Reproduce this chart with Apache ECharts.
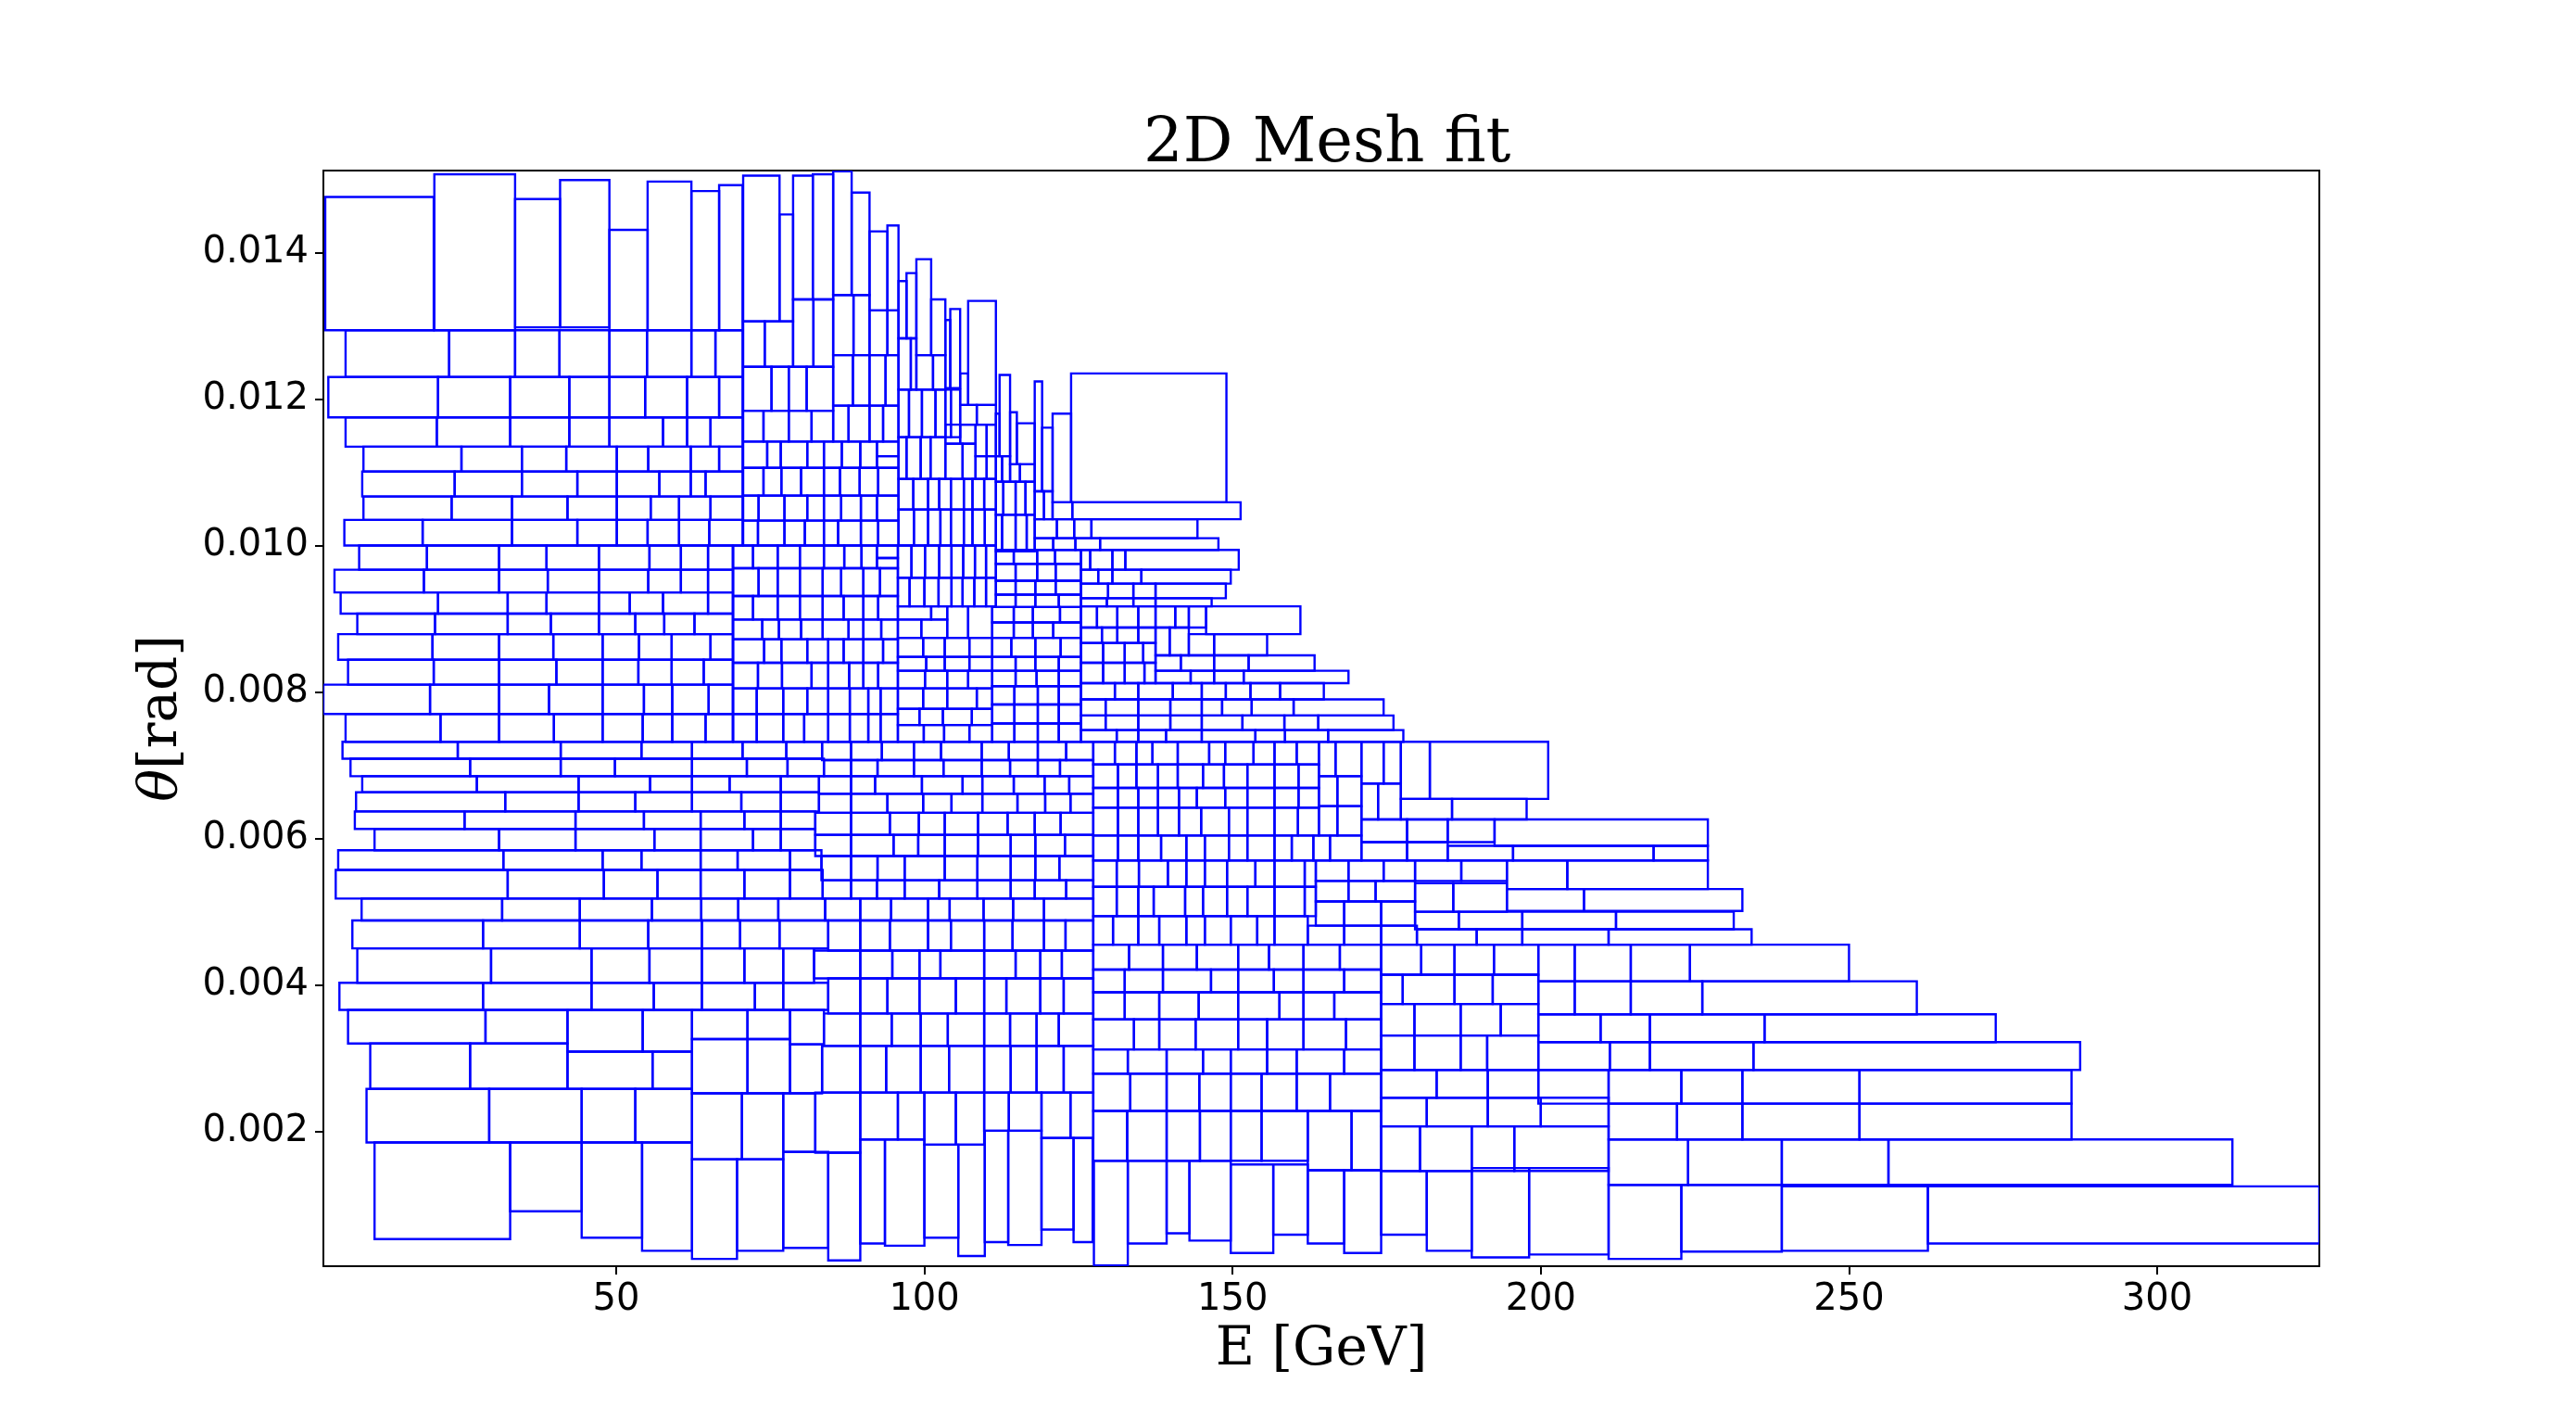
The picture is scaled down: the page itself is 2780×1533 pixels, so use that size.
<!DOCTYPE html>
<html>
<head>
<meta charset="utf-8">
<title>2D Mesh fit</title>
<script src="https://cdn.jsdelivr.net/npm/echarts@6/dist/echarts.min.js"></script>
<style>
    html, body { margin: 0; padding: 0; background: #fff; }
    #mesh { width: 2780px; height: 1533px; }
</style>
</head>
<body>
<div id="mesh"></div>
<script>
    // axis ticks
    var energyTicks = [50, 100, 150, 200, 250, 300];
    var thetaTicks = [0.002, 0.004, 0.006, 0.008, 0.010, 0.012, 0.014];

    // single cells: [E low, E high, theta low (mrad), theta high (mrad)]
    var singleCells = [
        [2.8, 20.4, 12.94, 14.76], [20.5, 33.6, 12.94, 15.07], [33.6, 40.9, 12.98, 14.73],
        [40.9, 48.9, 12.98, 14.99], [48.9, 55.1, 12.94, 14.31], [55.1, 62.2, 12.94, 14.97],
        [62.2, 66.7, 12.94, 14.84], [66.7, 70.5, 12.94, 14.92], [70.6, 76.5, 13.06, 15.05],
        [76.5, 78.7, 13.06, 14.52], [78.7, 81.9, 13.36, 15.05], [81.9, 85.2, 13.36, 15.07],
        [85.2, 88.2, 13.42, 15.11], [88.2, 91.1, 13.42, 14.82], [91.1, 94.0, 13.21, 14.29],
        [94.0, 95.8, 13.21, 14.37], [95.8, 97.1, 12.83, 13.61], [97.1, 98.7, 12.83, 13.72],
        [98.7, 101.1, 12.60, 13.91], [101.1, 103.4, 12.60, 13.36], [103.4, 104.2, 12.15, 13.08],
        [104.2, 105.8, 12.15, 13.23], [105.8, 107.1, 11.92, 12.35], [107.1, 111.6, 11.92, 13.34],
        [111.6, 112.2, 11.22, 11.80], [112.2, 113.9, 11.22, 12.33], [113.9, 115.0, 11.11, 11.82],
        [115.0, 117.9, 11.11, 11.67], [117.9, 119.1, 10.74, 12.24], [119.1, 120.8, 10.74, 11.61],
        [120.8, 123.8, 10.59, 11.80], [123.8, 149.0, 10.59, 12.35], [124.0, 151.3, 10.36, 10.59],
        [145.7, 161.0, 8.79, 9.17], [177.3, 182.0, 6.54, 7.32], [182.0, 201.2, 6.54, 7.32],
        [192.5, 227.1, 5.90, 6.26],
        // bottom row
        [10.8, 32.8, 0.53, 1.85], [32.8, 44.4, 0.91, 1.85], [44.4, 54.2, 0.55, 1.85],
        [54.2, 62.3, 0.37, 1.85], [62.3, 69.6, 0.26, 1.62], [69.6, 77.1, 0.37, 1.62],
        [77.1, 84.4, 0.41, 1.72], [84.4, 89.6, 0.24, 1.71], [89.6, 93.6, 0.47, 1.89],
        [93.6, 100.0, 0.44, 1.89], [100.0, 105.5, 0.55, 1.82], [105.5, 109.8, 0.30, 1.82],
        [109.8, 113.6, 0.49, 2.01], [113.6, 119.0, 0.45, 2.01], [119.0, 124.2, 0.66, 1.91],
        [124.2, 127.3, 0.49, 1.91], [127.5, 133.0, 0.17, 1.60], [133.0, 139.3, 0.47, 1.60],
        [139.3, 143.0, 0.61, 1.60], [143.0, 149.7, 0.51, 1.60], [149.7, 156.6, 0.34, 1.55],
        [156.6, 162.2, 0.59, 1.55], [162.2, 168.1, 0.47, 1.47], [168.1, 174.1, 0.34, 1.47],
        [174.1, 181.5, 0.59, 1.46], [181.5, 188.8, 0.37, 1.46], [188.8, 198.1, 0.28, 1.50],
        [198.1, 211.0, 0.32, 1.50], [211.0, 222.8, 0.26, 1.27], [222.8, 239.1, 0.36, 1.27],
        [239.1, 262.8, 0.37, 1.25], [262.8, 326.3, 0.47, 1.25]
    ];

    // rows: [theta low (mrad), theta high (mrad), E edges...]
    var rowsUpper = [
        [12.30, 12.94, 6.1, 22.9, 33.6, 40.8, 48.9, 55.0, 62.2, 66.1, 70.5],
        [11.75, 12.30, 3.3, 21.1, 32.8, 42.4, 48.9, 54.7, 61.5, 66.7, 70.5],
        [11.35, 11.75, 6.1, 20.9, 32.8, 42.4, 48.9, 57.6, 61.5, 65.3, 70.5],
        [11.01, 11.35, 9.0, 24.9, 34.7, 41.9, 50.1, 55.2, 62.1, 66.7, 70.5],
        [10.67, 11.01, 8.8, 23.8, 34.7, 43.7, 50.1, 57.0, 62.1, 64.5, 70.5],
        [10.35, 10.67, 9.0, 23.3, 33.1, 42.1, 50.1, 55.6, 60.2, 65.3, 70.5],
        [10.00, 10.35, 5.9, 18.6, 33.1, 43.7, 50.1, 55.1, 60.2, 65.1, 70.5],
        [12.44, 13.06, 70.6, 74.1, 78.7],
        [12.44, 13.36, 78.7, 82.0, 85.2],
        [12.60, 13.42, 85.2, 88.5, 91.1],
        [12.60, 13.21, 91.1, 94.0, 95.8],
        [11.84, 12.44, 70.6, 75.2, 78.0, 80.9, 85.2],
        [11.91, 12.60, 85.2, 88.4, 91.1, 93.7, 95.8],
        [11.42, 11.84, 70.6, 73.9, 78.0, 81.7, 85.2],
        [11.42, 11.91, 85.2, 87.7, 91.1, 93.3, 95.8],
        [11.06, 11.42, 70.6, 74.5, 76.7, 81.0, 83.7, 86.6, 89.6, 92.3],
        [11.22, 11.42, 92.3, 95.8],
        [11.06, 11.22, 92.3, 95.8],
        [10.68, 11.06, 70.6, 73.9, 76.8, 80.0, 83.7, 86.3, 89.5, 92.5, 95.8],
        [10.34, 10.68, 70.6, 73.1, 77.3, 81.0, 83.7, 86.5, 89.7, 92.3, 95.8],
        [10.00, 10.34, 70.6, 73.0, 77.3, 80.6, 83.7, 86.0, 89.7, 92.5, 95.8],
        [12.13, 12.83, 95.8, 97.8, 98.7],
        [12.13, 12.60, 98.7, 101.4, 103.4],
        [11.48, 12.13, 95.8, 97.5, 99.6, 101.8, 103.4, 104.3, 105.8],
        [11.65, 11.92, 105.8, 108.5, 111.6],
        [10.91, 11.48, 95.8, 97.1, 99.4, 101.0, 103.4],
        [11.39, 11.65, 103.4, 105.8, 108.3],
        [10.91, 11.39, 103.4, 106.2, 108.3],
        [11.22, 11.65, 108.3, 110.1, 111.6],
        [10.91, 11.22, 108.3, 110.1, 111.6],
        [10.49, 10.91, 95.8, 98.2, 100.6, 102.4, 104.3, 106.4, 107.8, 109.7, 111.6],
        [10.00, 10.49, 95.8, 98.3, 100.6, 102.6, 104.3, 106.4, 107.8, 109.8, 111.6],
        [10.87, 11.22, 111.6, 112.6, 113.9],
        [10.87, 11.11, 113.9, 115.5, 117.9],
        [10.42, 10.87, 111.6, 112.8, 114.8, 116.4, 117.9],
        [9.92, 10.42, 111.6, 112.6, 114.8, 116.6, 117.9],
        [10.36, 10.74, 117.9, 119.4, 120.8],
        [10.36, 10.59, 120.8, 124.0],
        [10.10, 10.36, 117.9, 121.5, 124.3, 127.1, 144.3],
        [9.94, 10.10, 117.9, 120.9, 124.5, 128.5, 147.7]
    ];

    var rowsMiddle = [
        [9.67, 10.00, 8.3, 19.3, 31.0, 38.7, 47.2, 55.4, 60.5, 64.9, 68.9],
        [9.36, 9.67, 4.3, 18.8, 31.0, 38.9, 47.2, 55.2, 60.5, 64.9, 68.9],
        [9.07, 9.36, 5.3, 21.1, 32.4, 38.7, 47.2, 52.2, 57.6, 64.9, 68.9],
        [8.79, 9.07, 8.0, 20.6, 32.4, 39.4, 47.2, 53.1, 57.8, 62.7, 68.9],
        [8.44, 8.79, 4.9, 20.2, 31.0, 39.8, 47.8, 53.7, 59.0, 65.3, 68.9],
        [8.10, 8.44, 6.5, 20.4, 31.0, 40.3, 47.8, 53.6, 59.0, 64.2, 68.9],
        [7.70, 8.10, 2.5, 19.8, 31.0, 39.1, 47.8, 54.5, 59.1, 65.0, 68.9],
        [7.32, 7.70, 6.1, 21.5, 31.0, 39.9, 47.8, 54.3, 59.1, 64.5, 68.9],
        [9.69, 10.00, 69.0, 72.2, 76.2, 79.8, 83.7, 87.0, 89.8, 92.3],
        [9.83, 10.00, 92.3, 95.7],
        [9.69, 9.83, 92.3, 95.7],
        [9.31, 9.69, 69.0, 73.1, 76.2, 79.8, 83.5, 86.5, 90.1, 92.8, 95.7],
        [8.99, 9.31, 69.0, 72.2, 76.2, 79.8, 83.5, 86.9, 90.1, 92.5, 95.7],
        [8.72, 8.99, 69.0, 73.7, 76.4, 80.0, 83.5, 87.7, 90.1, 93.0, 95.7],
        [8.40, 8.72, 69.0, 74.0, 76.8, 81.0, 84.4, 86.9, 90.1, 93.3, 95.7],
        [8.05, 8.40, 69.0, 73.0, 76.9, 81.7, 84.4, 87.8, 90.1, 92.5, 95.7],
        [7.70, 8.05, 69.0, 72.8, 77.1, 81.0, 84.4, 87.9, 90.9, 92.9, 95.7],
        [7.32, 7.70, 69.0, 72.8, 77.1, 80.5, 84.4, 87.9, 90.9, 92.9, 95.7],
        [9.56, 10.00, 95.7, 97.9, 100.1, 102.4, 104.4, 106.3, 108.2, 110.0, 111.6],
        [9.17, 9.56, 95.7, 97.6, 100.0, 102.3, 104.4, 106.2, 108.1, 110.0, 111.6],
        [8.99, 9.17, 95.7, 101.1, 103.7],
        [8.74, 8.99, 95.7, 99.5, 103.7],
        [8.74, 9.17, 103.7, 107.1, 111.0],
        [8.48, 8.74, 95.7, 99.8, 103.3, 107.3, 111.0],
        [8.29, 8.48, 95.7, 100.3, 103.3, 107.3, 111.0],
        [8.05, 8.29, 95.7, 100.1, 103.7, 107.1, 111.0],
        [7.77, 8.05, 95.7, 99.8, 103.7, 108.5, 111.0],
        [7.55, 7.77, 95.7, 99.2, 103.0, 107.7, 111.0],
        [7.32, 7.55, 95.7, 99.9, 103.2, 107.3, 111.0],
        [9.75, 9.94, 111.6, 114.5, 118.3, 121.2, 125.4],
        [9.52, 9.75, 111.6, 114.8, 118.3, 121.3, 125.4],
        [9.33, 9.52, 111.6, 114.8, 118.0, 121.3, 125.4],
        [9.16, 9.33, 111.6, 114.8, 118.0, 121.8, 125.4],
        [8.95, 9.16, 111.0, 114.5, 117.6, 122.0, 125.4],
        [8.74, 8.95, 111.0, 114.5, 117.6, 120.9, 125.4],
        [8.48, 8.74, 111.0, 114.1, 118.0, 122.1, 125.4],
        [8.29, 8.48, 111.0, 114.8, 118.0, 121.8, 125.4],
        [8.08, 8.29, 111.0, 114.8, 118.2, 121.8, 125.4],
        [7.83, 8.08, 111.0, 114.6, 118.4, 121.8, 125.4],
        [7.57, 7.83, 111.0, 114.6, 118.4, 121.8, 125.4],
        [7.32, 7.57, 111.0, 114.6, 118.4, 121.8, 125.4],
        [9.67, 9.94, 125.4, 126.9, 130.5, 132.6, 151.0],
        [9.48, 9.67, 125.4, 128.2, 130.5, 135.2, 149.7],
        [9.28, 9.48, 125.4, 129.8, 133.9, 137.5, 148.9],
        [9.17, 9.28, 125.4, 129.6, 133.9, 137.5, 146.6],
        [8.88, 9.17, 125.4, 128.0, 131.3, 134.7, 137.5, 140.7, 142.9, 145.7],
        [8.67, 8.88, 125.4, 128.8, 131.3, 134.7, 137.5],
        [8.50, 8.88, 137.5, 139.8, 142.9],
        [8.50, 8.79, 142.9, 147.0, 155.6],
        [8.40, 8.67, 125.4, 129.0, 132.5, 135.5, 137.5],
        [8.29, 8.50, 137.5, 141.6, 147.0, 152.6, 163.3],
        [8.12, 8.40, 125.4, 129.0, 132.5, 135.7, 137.5],
        [8.12, 8.29, 137.5, 143.2, 147.0, 151.8, 168.8],
        [7.90, 8.12, 125.4, 130.9, 134.7, 140.3, 145.0, 148.9, 152.9, 157.7, 164.8],
        [7.68, 7.90, 125.4, 129.4, 134.7, 139.9, 145.0, 148.3, 153.1, 159.9, 174.5],
        [7.48, 7.68, 125.4, 129.4, 134.7, 139.9, 145.0, 151.6, 158.4, 163.9, 176.1],
        [7.32, 7.48, 125.4, 131.2, 134.7, 139.2, 145.0, 153.7, 158.5, 165.5, 177.7]
    ];

    var rowsLower = [
        [7.09, 7.32, 5.6, 24.3, 41.0, 54.1, 62.3, 70.5, 77.6, 83.4],
        [6.85, 7.09, 6.9, 26.3, 41.0, 49.8, 62.3, 71.2, 77.8, 83.7],
        [6.63, 6.85, 8.8, 27.4, 43.9, 55.5, 62.3, 68.4, 76.7, 82.9],
        [6.37, 6.63, 7.8, 32.0, 43.9, 53.1, 62.3, 70.3, 76.7, 82.9],
        [6.13, 6.37, 7.6, 25.4, 43.4, 54.5, 63.7, 70.8, 76.7, 82.3],
        [5.84, 6.13, 10.8, 31.0, 43.4, 56.2, 63.7, 72.2, 76.7, 82.3],
        [5.57, 5.84, 4.9, 31.7, 47.8, 54.1, 63.7, 69.7, 78.2, 83.3],
        [5.18, 5.57, 4.5, 32.4, 48.0, 56.7, 63.7, 70.8, 78.2, 83.5],
        [4.88, 5.18, 8.7, 31.5, 44.1, 55.8, 63.8, 69.8, 76.3, 83.9],
        [4.50, 4.88, 7.2, 28.4, 44.1, 55.2, 63.9, 70.1, 76.5, 84.4],
        [4.03, 4.50, 8.0, 29.7, 46.0, 55.4, 63.9, 70.8, 77.1, 82.1],
        [3.66, 4.03, 5.1, 28.4, 46.0, 56.1, 63.9, 72.5, 77.1, 84.4],
        [3.20, 3.66, 6.5, 28.8, 42.1],
        [3.09, 3.66, 42.1, 54.3, 62.3],
        [3.26, 3.66, 62.3, 71.3, 78.2],
        [3.19, 3.66, 78.2, 83.7],
        [2.58, 3.20, 10.1, 26.3, 42.1],
        [2.58, 3.09, 42.1, 55.9, 62.3],
        [2.52, 3.26, 62.3, 71.3, 78.2],
        [2.52, 3.19, 78.2, 83.4],
        [1.85, 2.58, 9.5, 29.4, 44.4, 53.1, 62.3],
        [1.62, 2.52, 62.3, 70.4, 77.1],
        [1.72, 2.52, 77.1, 82.3],
        [7.07, 7.32, 83.4, 88.1, 93.1, 98.3, 102.7, 109.3, 113.7, 118.4, 123.0, 127.4],
        [6.85, 7.07, 83.7, 88.1, 92.4, 98.3, 103.1, 109.3, 113.9, 118.4, 122.0, 127.4],
        [6.61, 6.85, 82.9, 88.1, 92.0, 99.6, 106.2, 109.4, 114.5, 119.5, 123.5, 127.4],
        [6.35, 6.61, 82.9, 88.1, 94.0, 99.8, 104.4, 109.4, 115.1, 119.6, 123.7, 127.4],
        [6.05, 6.35, 82.3, 88.1, 94.4, 99.1, 103.3, 108.7, 113.5, 117.9, 122.1, 127.4],
        [5.76, 6.05, 82.3, 88.1, 95.0, 99.0, 103.3, 108.7, 114.0, 118.0, 122.8, 127.4],
        [5.43, 5.76, 83.3, 88.1, 92.4, 96.8, 103.3, 108.6, 114.0, 118.0, 121.9, 127.4],
        [5.18, 5.43, 83.5, 88.1, 92.3, 96.8, 102.4, 108.6, 114.0, 117.9, 123.0, 127.4],
        [4.88, 5.18, 83.9, 89.6, 94.6, 100.6, 104.1, 109.6, 114.4, 119.4, 127.4],
        [4.47, 4.88, 84.4, 89.6, 94.4, 100.6, 104.3, 109.7, 114.3, 119.4, 122.9, 127.4],
        [4.09, 4.47, 82.1, 89.6, 94.8, 99.2, 102.6, 109.7, 114.8, 118.8, 122.3, 127.4],
        [3.61, 4.09, 84.4, 89.6, 94.0, 99.2, 105.1, 109.7, 113.3, 118.8, 122.6, 127.4],
        [3.17, 3.61, 83.7, 89.6, 94.7, 99.4, 103.8, 109.7, 113.9, 118.2, 121.8, 127.4],
        [2.53, 3.17, 83.4, 89.6, 93.8, 99.4, 104.0, 109.7, 114.0, 118.2, 122.6, 127.4],
        [1.71, 2.53, 82.3, 89.6],
        [1.89, 2.53, 89.6, 95.7, 100.0],
        [1.82, 2.53, 100.0, 105.1, 109.7],
        [2.01, 2.53, 109.7, 113.7, 119.0],
        [1.91, 2.53, 119.0, 123.7, 127.4]
    ];

    var rowsRight = [
        [7.01, 7.32, 127.4, 130.9, 134.4, 137.0, 141.1, 146.2, 148.8, 153.4, 156.8, 160.4, 164.0],
        [6.69, 7.01, 127.4, 131.4, 134.4, 137.9, 141.1, 145.2, 148.6, 152.4, 156.8, 160.7, 164.0],
        [6.42, 6.69, 127.4, 131.4, 134.7, 137.9, 141.3, 144.2, 148.8, 152.4, 156.8, 160.7, 164.0],
        [6.04, 6.42, 127.4, 131.4, 134.7, 137.9, 141.3, 144.9, 149.4, 152.4, 156.8, 160.6, 164.0],
        [5.70, 6.04, 127.4, 131.4, 134.7, 138.4, 142.5, 145.5, 149.4, 152.4, 156.8, 159.6, 163.1, 165.8, 170.9],
        [5.34, 5.70, 127.4, 131.2, 134.8, 139.5, 142.5, 145.5, 149.1, 153.7, 156.8, 161.7, 163.5],
        [4.94, 5.34, 127.4, 131.2, 134.7, 137.2, 142.3, 145.2, 149.1, 152.4, 156.8, 161.7, 163.5],
        [6.85, 7.32, 164.0, 166.7, 170.9],
        [6.75, 7.32, 170.9, 174.5, 177.3],
        [6.44, 6.85, 164.0, 167.0, 170.9],
        [6.26, 6.75, 170.9, 173.6, 177.3],
        [6.26, 6.54, 177.3, 185.6, 197.7],
        [6.04, 6.44, 164.0, 167.0, 170.9],
        [5.95, 6.26, 170.9, 178.3, 184.9, 192.5],
        [5.70, 5.95, 170.9, 178.3, 184.9],
        [5.70, 5.90, 184.9, 195.5, 218.3, 227.1],
        [5.42, 5.70, 163.5, 168.8, 174.5, 179.6, 187.1, 194.5],
        [5.31, 5.70, 194.5, 204.3, 227.1],
        [5.14, 5.42, 163.5, 168.8, 173.2, 179.6],
        [5.00, 5.39, 179.6, 185.8, 194.5],
        [5.01, 5.31, 194.5, 207.0, 232.7],
        [4.81, 5.14, 163.5, 168.1, 174.1, 179.6],
        [4.76, 5.00, 179.6, 186.7, 197.0, 212.2, 231.3],
        [4.55, 4.94, 127.4, 130.6, 134.7, 138.1, 142.5, 145.5, 149.7, 154.0, 156.8, 162.2],
        [4.55, 4.81, 162.2, 168.1, 174.1, 179.9],
        [4.55, 4.76, 179.9, 189.6, 197.0, 211.0, 234.2],
        [4.21, 4.55, 127.4, 133.2, 138.7, 144.2, 150.9, 155.9, 161.5, 167.4, 174.1],
        [4.14, 4.55, 174.1, 180.6, 186.0, 192.4, 199.6],
        [4.05, 4.55, 199.6, 205.5, 214.6, 224.2, 250.0],
        [3.90, 4.21, 127.4, 132.5, 138.7, 146.5, 150.9, 156.7, 161.5, 168.1, 174.1],
        [3.74, 4.14, 174.1, 177.6, 186.0, 192.2, 199.6],
        [3.60, 4.05, 199.6, 205.5, 214.6, 226.2, 261.0],
        [3.53, 3.90, 127.4, 132.5, 138.1, 144.5, 150.9, 157.6, 161.5, 166.5, 174.1],
        [3.31, 3.74, 174.1, 179.5, 187.0, 193.5, 199.6],
        [3.22, 3.60, 199.6, 209.7, 217.7, 236.3, 273.8],
        [3.12, 3.53, 127.4, 134.0, 138.1, 144.0, 150.9, 155.6, 161.5, 168.4, 174.1],
        [2.84, 3.31, 174.1, 179.5, 187.0, 191.3, 199.6],
        [2.84, 3.22, 199.6, 211.2, 217.7, 234.5, 287.5],
        [2.79, 3.12, 127.4, 133.0, 139.3, 145.2, 149.7, 155.6, 160.4, 168.1, 174.1],
        [2.46, 2.84, 174.1, 183.1, 191.4, 199.6],
        [2.38, 2.84, 199.6, 211.0, 222.8, 232.7, 251.7, 286.1],
        [2.28, 2.79, 127.4, 133.4, 139.3, 144.6, 149.7, 154.7, 160.4, 165.8, 174.1],
        [2.07, 2.46, 174.1, 181.5, 191.4, 200.0, 211.0],
        [1.89, 2.38, 211.0, 222.1, 232.7, 251.7, 286.1],
        [1.60, 2.28, 127.4, 132.9, 139.3, 144.7, 149.7, 154.7, 162.2],
        [1.47, 2.28, 162.2, 169.3, 174.1],
        [1.46, 2.07, 174.1, 180.4, 188.8, 195.7, 211.0],
        [1.27, 1.89, 211.0, 223.9, 239.1, 256.4, 312.2]
    ];

    // build cell list [E0, E1, theta0, theta1] in rad
    var cells = [];
    singleCells.forEach(function (c) {
        cells.push([c[0], c[1], c[2] / 1000, c[3] / 1000]);
    });
    [rowsUpper, rowsMiddle, rowsLower, rowsRight].forEach(function (rows) {
        rows.forEach(function (r) {
            for (var i = 2; i < r.length - 1; i++) {
                cells.push([r[i], r[i + 1], r[0] / 1000, r[1] / 1000]);
            }
        });
    });

    var chart = echarts.init(document.getElementById('mesh'));
    var option = {
        animation: false,
        backgroundColor: '#fff',
        title: {
            text: '2D Mesh fit',
            left: 1229,
            top: 118,
            textStyle: { fontFamily: 'DejaVu Serif', fontSize: 67, fontWeight: 'normal', color: '#000' }
        },
        grid: {
            left: 349, right: 277, top: 184, bottom: 167,
            show: true, borderColor: '#000', borderWidth: 2, backgroundColor: 'transparent'
        },
        xAxis: {
            type: 'value', min: 2.5, max: 326.3,
            name: 'E [GeV]', nameLocation: 'middle', nameGap: 57,
            nameTextStyle: { fontFamily: 'DejaVu Serif', fontSize: 58, color: '#000' },
            axisLine: { show: true, lineStyle: { color: '#000', width: 2 } },
            axisTick: { show: true, length: 9, customValues: energyTicks, lineStyle: { color: '#000', width: 2 } },
            axisLabel: { customValues: energyTicks, margin: 17, fontFamily: 'DejaVu Sans', fontSize: 40, color: '#000' },
            splitLine: { show: false }
        },
        yAxis: {
            type: 'value', min: 0.00016, max: 0.01512,
            name: '{i|θ}[rad]', nameLocation: 'middle', nameGap: 145, nameRotate: 90,
            nameTextStyle: {
                fontFamily: 'DejaVu Serif', fontSize: 58, color: '#000',
                rich: { i: { fontFamily: 'DejaVu Serif', fontStyle: 'italic', fontSize: 58, color: '#000' } }
            },
            axisLine: { show: true, lineStyle: { color: '#000', width: 2 } },
            axisTick: { show: true, length: 9, customValues: thetaTicks, lineStyle: { color: '#000', width: 2 } },
            axisLabel: {
                customValues: thetaTicks, margin: 16, fontFamily: 'DejaVu Sans', fontSize: 40, color: '#000',
                formatter: function (v) { return v.toFixed(3); }
            },
            splitLine: { show: false }
        },
        series: [{
            type: 'custom',
            clip: true,
            data: cells,
            encode: { x: [0, 1], y: [2, 3] },
            renderItem: function (params, api) {
                var p0 = api.coord([api.value(0), api.value(3)]);
                var p1 = api.coord([api.value(1), api.value(2)]);
                return {
                    type: 'rect',
                    shape: { x: p0[0], y: p0[1], width: p1[0] - p0[0], height: p1[1] - p0[1] },
                    style: { fill: 'none', stroke: '#0000ff', lineWidth: 2.4 }
                };
            }
        }]
    };
    chart.setOption(option);
</script>
</body>
</html>
